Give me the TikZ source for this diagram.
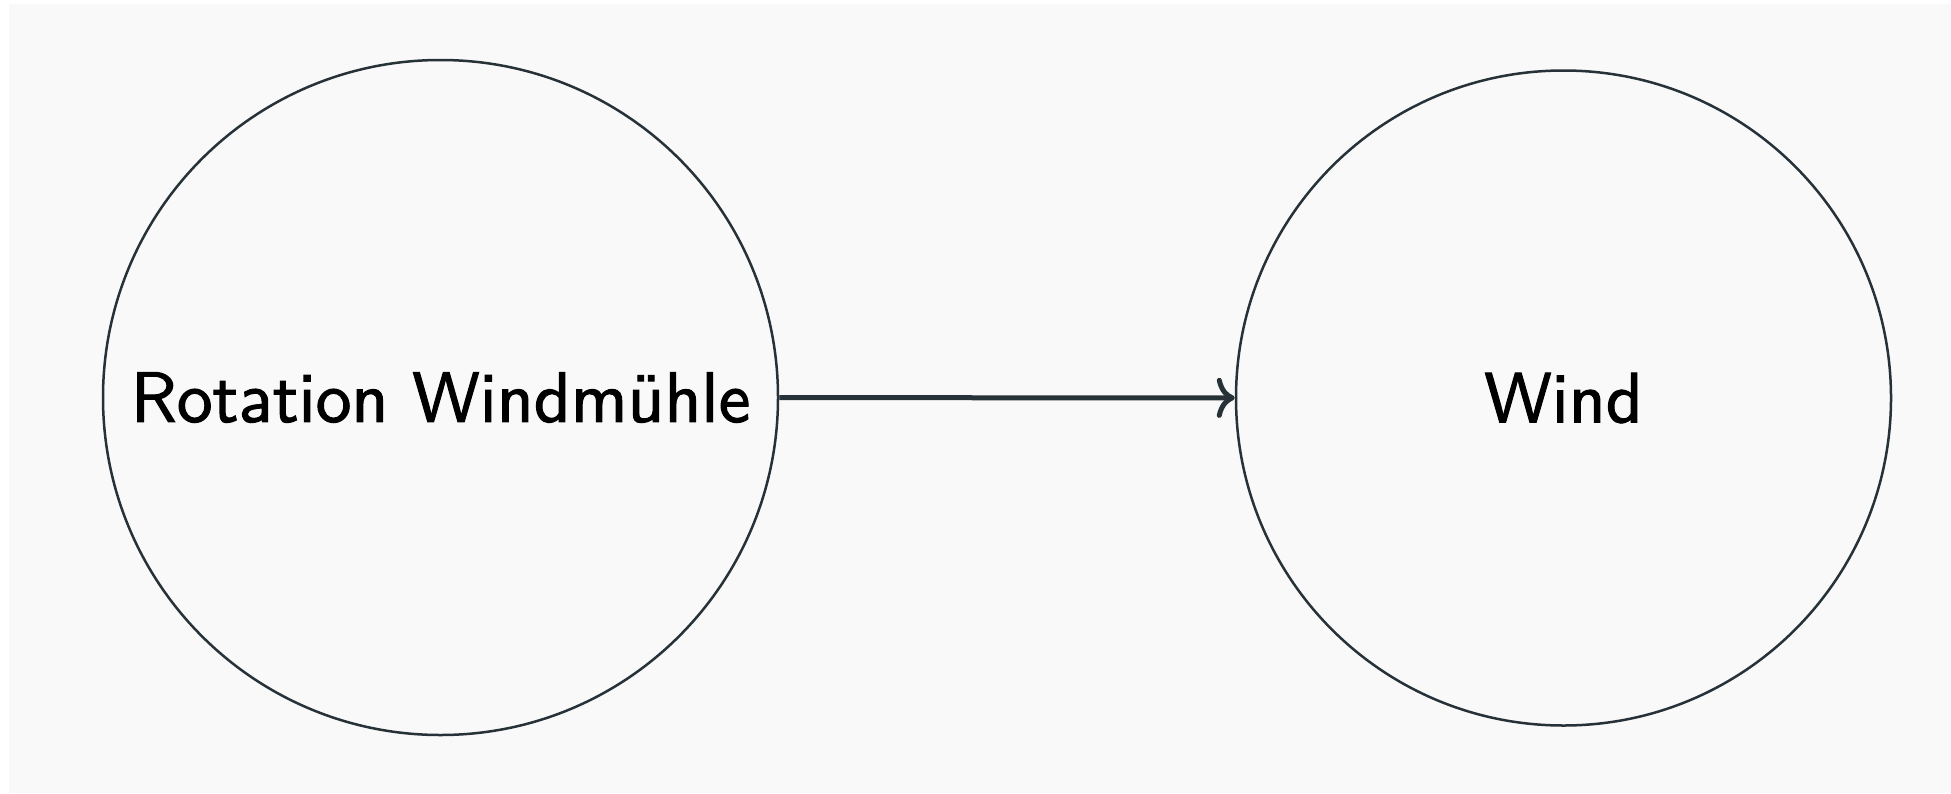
\documentclass[tikz,border=0pt]{standalone}
\usepackage{fontspec}
\newfontfamily\nodefont[FakeBold=1.5]{lmsans10-regular.otf}
\usetikzlibrary{arrows.meta}
\definecolor{bg}{HTML}{F9F9F9}
\definecolor{ln}{HTML}{263238}
\tikzset{
  bubble/.style={circle, draw=ln, line width=2.5pt, inner sep=0pt, font=\nodefont\fontsize{71.5}{80}\selectfont, text=black},
  link/.style={draw=ln, line width=5pt, -{To[length=18pt,width=40pt]}}
}
\begin{document}
\begin{tikzpicture}[x=1pt,y=-1pt]
\useasboundingbox (0,0) rectangle (1951,793);
\fill[bg] (9,4) rectangle (1951,793);
\node[bubble, minimum size=675pt] (rot) at (440.5,397.5) {Rotation Windmühle};
\node[bubble, minimum size=655pt] (wind) at (1563.5,398) {Wind};
\draw[link] (rot) -- (wind);
\end{tikzpicture}
\end{document}
